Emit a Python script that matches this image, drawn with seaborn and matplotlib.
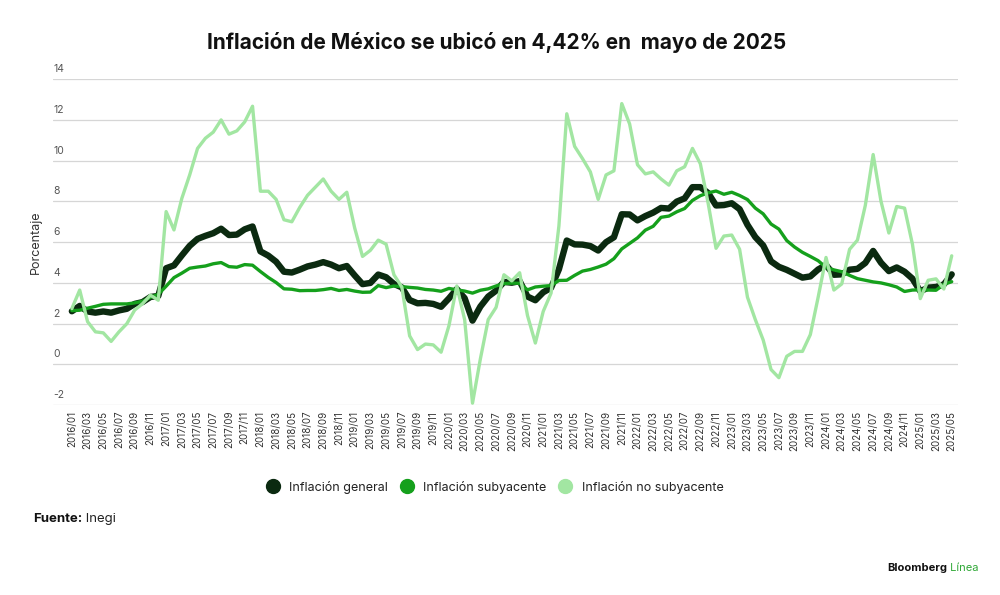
import pandas as pd
import seaborn as sns
import matplotlib.pyplot as plt
from matplotlib.lines import Line2D

# monthly annual inflation, 2016/01 - 2025/05
months = [f"{y}/{m:02d}" for y in range(2016, 2026) for m in range(1, 13)][:113]

general = [
    2.61, 2.87, 2.60, 2.54, 2.60, 2.54, 2.65, 2.73, 2.97, 3.06, 3.31, 3.36,
    4.72, 4.86, 5.35, 5.82, 6.16, 6.31, 6.44, 6.66, 6.35, 6.37, 6.63, 6.77,
    5.55, 5.34, 5.04, 4.55, 4.51, 4.65, 4.81, 4.90, 5.02, 4.90, 4.72, 4.83,
    4.37, 3.94, 4.00, 4.41, 4.28, 3.95, 3.78, 3.16, 3.00, 3.02, 2.97, 2.83,
    3.24, 3.70, 3.25, 2.15, 2.84, 3.33, 3.62, 4.05, 4.01, 4.09, 3.33, 3.15,
    3.54, 3.76, 4.67, 6.08, 5.89, 5.88, 5.81, 5.59, 6.00, 6.24, 7.37, 7.36,
    7.07, 7.28, 7.45, 7.68, 7.65, 7.99, 8.15, 8.70, 8.70, 8.41, 7.80, 7.82,
    7.91, 7.62, 6.85, 6.25, 5.84, 5.06, 4.79, 4.64, 4.45, 4.26, 4.32, 4.66,
    4.88, 4.40, 4.42, 4.65, 4.69, 4.98, 5.57, 4.99, 4.58, 4.76, 4.55, 4.21,
    3.59, 3.77, 3.80, 3.93, 4.42,
]

subyacente = [
    2.64, 2.66, 2.76, 2.85, 2.95, 2.97, 2.97, 2.97, 3.02, 3.10, 3.29, 3.44,
    3.84, 4.26, 4.48, 4.72, 4.78, 4.83, 4.94, 5.00, 4.80, 4.77, 4.90, 4.87,
    4.56, 4.27, 4.02, 3.71, 3.69, 3.62, 3.63, 3.63, 3.67, 3.73, 3.63, 3.68,
    3.60, 3.54, 3.55, 3.87, 3.77, 3.85, 3.82, 3.78, 3.75, 3.68, 3.65, 3.59,
    3.73, 3.66, 3.60, 3.50, 3.64, 3.71, 3.85, 3.97, 3.99, 3.98, 3.66, 3.80,
    3.84, 3.87, 4.12, 4.13, 4.37, 4.58, 4.66, 4.78, 4.92, 5.19, 5.67, 5.94,
    6.21, 6.59, 6.78, 7.22, 7.28, 7.49, 7.65, 8.05, 8.28, 8.42, 8.51, 8.35,
    8.45, 8.29, 8.09, 7.67, 7.39, 6.89, 6.64, 6.08, 5.76, 5.50, 5.30, 5.09,
    4.76, 4.64, 4.55, 4.37, 4.21, 4.13, 4.05, 4.00, 3.91, 3.80, 3.58, 3.65,
    3.66, 3.65, 3.64, 3.93, 4.06,
]

no_subyacente = [
    2.74, 3.65, 2.10, 1.60, 1.55, 1.13, 1.60, 2.00, 2.67, 2.98, 3.40, 3.15,
    7.50, 6.60, 8.15, 9.30, 10.60, 11.10, 11.40, 12.00, 11.30, 11.46, 11.90, 12.67,
    8.50, 8.50, 8.10, 7.10, 7.00, 7.70, 8.30, 8.70, 9.10, 8.50, 8.10, 8.45,
    6.70, 5.30, 5.60, 6.10, 5.90, 4.40, 3.80, 1.40, 0.73, 1.00, 0.96, 0.60,
    1.90, 3.85, 2.20, -1.90, 0.27, 2.20, 2.80, 4.40, 4.10, 4.50, 2.40, 1.05,
    2.60, 3.50, 6.80, 12.30, 10.70, 10.10, 9.45, 8.10, 9.30, 9.50, 12.80, 11.80,
    9.80, 9.35, 9.45, 9.10, 8.80, 9.50, 9.70, 10.60, 9.85, 7.90, 5.70, 6.30,
    6.35, 5.65, 3.30, 2.20, 1.20, -0.25, -0.65, 0.40, 0.64, 0.64, 1.46, 3.30,
    5.25, 3.65, 3.95, 5.65, 6.10, 7.80, 10.30, 8.00, 6.45, 7.75, 7.67, 5.90,
    3.23, 4.13, 4.20, 3.70, 5.33,
]

series_names = ["Inflación general", "Inflación subyacente", "Inflación no subyacente"]
colors = ["#0b2a10", "#15a01c", "#a2e6a2"]
widths = [4.6, 2.4, 2.4]
yticks = [-2, 0, 2, 4, 6, 8, 10, 12, 14]

df = pd.DataFrame({
    "idx": list(range(len(months))) * 3,
    "valor": general + subyacente + no_subyacente,
    "serie": [s for s in series_names for _ in months],
})

sns.set_style("white")
plt.rcParams["font.family"] = ["Inter", "DejaVu Sans"]

fig = plt.figure(figsize=(10, 5.95), dpi=100)
ax = fig.add_axes([0.053, 0.319, 0.905, 0.548])

for name, col, lw in zip(series_names, colors, widths):
    sns.lineplot(data=df[df["serie"] == name], x="idx", y="valor", color=col,
                 linewidth=lw, ax=ax, legend=False)

ax.set_xlim(-2.4, 112.8)
ax.set_ylim(-2, 14)
for s in ax.spines.values():
    s.set_visible(False)

ax.set_yticks(yticks)
ax.set_yticklabels([])
ax.yaxis.grid(True, color="#d6d6d6", linewidth=0.9)
ax.set_axisbelow(True)
ax.tick_params(axis="both", length=0)
for v in yticks:
    ax.text(0.0, v + 0.25, str(v), transform=ax.get_yaxis_transform(),
            ha="left", va="bottom", fontsize=7.5, color="#555555")

ax.set_xticks(range(0, len(months), 2))
ax.set_xticklabels(months[::2], rotation=90, fontsize=7, color="#333333")
ax.tick_params(axis="x", pad=4)
ax.set_xlabel("")
ax.set_ylabel("Porcentaje", fontsize=9, color="#333333")
ax.yaxis.set_label_coords(-0.012, 0.5)

fig.text(0.497, 0.928, "Inflación de México se ubicó en 4,42% en  mayo de 2025",
         ha="center", va="center", fontsize=15, fontweight="bold", color="#111111")

handles = [Line2D([], [], marker="o", linestyle="", markersize=10,
                  markerfacecolor=c, markeredgecolor=c) for c in colors]
fig.legend(handles, series_names, loc="center", bbox_to_anchor=(0.492, 0.181),
           ncol=3, frameon=False, fontsize=9, handletextpad=0.3,
           columnspacing=0.5, labelcolor="#222222")

t1 = fig.text(0.033, 0.128, "Fuente:", fontsize=9.5, fontweight="bold",
              color="#111111", va="center")
ax.annotate(" Inegi", xy=(1, 0.5), xycoords=t1, va="center", ha="left",
            fontsize=9.5, color="#222222")

t2 = fig.text(0.887, 0.045, "Bloomberg", fontsize=8, fontweight="bold",
              color="#111111", va="center")
ax.annotate(" Línea", xy=(1, 0.5), xycoords=t2, va="center", ha="left",
            fontsize=8, color="#2fa836")

fig.savefig("out.png", dpi=100, facecolor="white")
